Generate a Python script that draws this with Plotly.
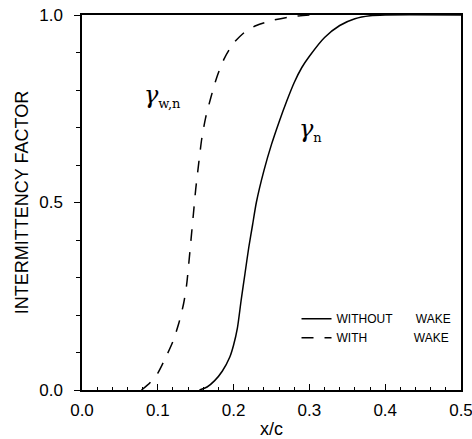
import plotly.graph_objects as go

# data
x_no_wake = [0.155, 0.165, 0.175, 0.185, 0.195, 0.200, 0.205, 0.210, 0.215, 0.220, 0.225,
             0.230, 0.240, 0.250, 0.260, 0.270, 0.280, 0.290, 0.300, 0.320, 0.340, 0.360,
             0.380, 0.400, 0.500]
y_no_wake = [0.000, 0.008, 0.025, 0.050, 0.088, 0.120, 0.165, 0.240, 0.310, 0.380, 0.440,
             0.500, 0.585, 0.655, 0.715, 0.770, 0.820, 0.860, 0.890, 0.940, 0.972, 0.990,
             0.998, 1.000, 1.000]

x_wake = [0.0785, 0.090, 0.100, 0.110, 0.120, 0.128, 0.134, 0.138, 0.141, 0.144, 0.147,
          0.150, 0.154, 0.158, 0.163, 0.170, 0.178, 0.188, 0.200, 0.215, 0.230, 0.250,
          0.275, 0.300]
y_wake = [0.000, 0.020, 0.045, 0.085, 0.130, 0.180, 0.230, 0.280, 0.340, 0.405, 0.470,
          0.535, 0.605, 0.670, 0.725, 0.780, 0.835, 0.885, 0.925, 0.955, 0.972, 0.985,
          0.995, 1.000]

x_tickvals = [0.0, 0.1, 0.2, 0.3, 0.4, 0.5]
x_ticktext = ["0.0", "0.1", "0.2", "0.3", "0.4", "0.5"]
y_tickvals = [0.0, 0.5, 1.0]
y_ticktext = ["0.0", "0.5", "1.0"]

FONT = "Liberation Sans, Arial, sans-serif"
NB = "\u00a0"

fig = go.Figure()
fig.add_trace(go.Scatter(x=x_no_wake, y=y_no_wake, mode="lines",
                         line=dict(color="black", width=1.5, shape="spline", smoothing=0.7),
                         name="WITHOUT" + NB * 7 + "WAKE"))
fig.add_trace(go.Scatter(x=x_wake, y=y_wake, mode="lines",
                         line=dict(color="black", width=1.5, dash="12px,11px", shape="spline", smoothing=0.7),
                         name="WITH" + NB * 14 + "WAKE"))

fig.update_layout(
    width=472, height=439,
    margin=dict(l=82, r=11, t=15, b=49, autoexpand=False),
    plot_bgcolor="white", paper_bgcolor="white",
    font=dict(family=FONT, color="black", size=17),
    showlegend=True,
    legend=dict(x=0.566, y=0.165, xanchor="left", yanchor="middle",
                font=dict(size=12, family=FONT), bgcolor="rgba(0,0,0,0)",
                itemwidth=30, tracegroupgap=0),
    xaxis=dict(range=[0, 0.5], showgrid=False, zeroline=False, automargin=False,
               showline=True, linecolor="black", linewidth=1.5, mirror=True,
               tickvals=x_tickvals, ticktext=x_ticktext, ticklabeloverflow="allow",
               ticks="inside", ticklen=6, tickwidth=1.2, tickcolor="black",
               ticklabelstandoff=4,
               minor=dict(dtick=0.02, ticks="inside", ticklen=3, tickwidth=1, tickcolor="black"),
               title=dict(text="x/c", font=dict(size=18), standoff=4),
               tickfont=dict(size=17)),
    yaxis=dict(range=[0, 1.0], showgrid=False, zeroline=False, automargin=False,
               showline=True, linecolor="black", linewidth=1.5, mirror=True,
               tickvals=y_tickvals, ticktext=y_ticktext,
               ticks="outside", ticklen=6, tickwidth=1.2, tickcolor="black",
               ticklabelstandoff=8,
               minor=dict(dtick=0.1, ticks="outside", ticklen=4, tickwidth=1, tickcolor="black"),
               title=dict(text="INTERMITTENCY FACTOR", font=dict(size=18), standoff=6),
               tickfont=dict(size=17)),
)

fig.add_annotation(x=0.079, y=0.784, xref="x", yref="y", xanchor="left", yanchor="middle",
                   showarrow=False,
                   text="<i>γ</i><sub><span style='font-size:13px'>w,n</span></sub>",
                   font=dict(size=24, family="DejaVu Serif, serif"))
fig.add_annotation(x=0.283, y=0.693, xref="x", yref="y", xanchor="left", yanchor="middle",
                   showarrow=False,
                   text="<i>γ</i><sub><span style='font-size:13px'>n</span></sub>",
                   font=dict(size=24, family="DejaVu Serif, serif"))

fig.write_html("out.html")
